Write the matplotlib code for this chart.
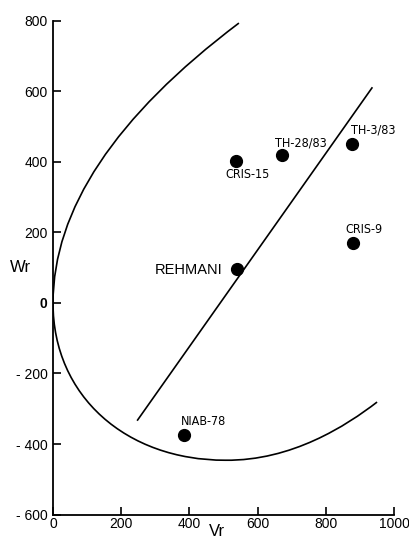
import matplotlib
matplotlib.use("Agg")
import matplotlib.pyplot as plt
from matplotlib.path import Path
from matplotlib.patches import PathPatch

# genotype points (Vr, Wr)
names = ["CRIS-15", "TH-28/83", "TH-3/83", "CRIS-9", "REHMANI", "NIAB-78"]
vr = [537, 671, 876, 879, 539, 385]
wr = [403, 420, 451, 170, 96, -374]

# limiting curve, as bezier nodes/controls
# upper branch (quadratic): end, control, origin
upper_vr = [545, 0, 0]
upper_wr = [794, 397, 0]
# lower branch (two cubics): origin -> bottom -> right end
lower_vr = [0, 0, 215, 505, 700, 860, 950]
lower_wr = [0, -265, -446, -446, -448, -348, -281]

# regression line ends
reg_vr = [248, 935]
reg_wr = [-332, 610]

yticks = [-600, -400, -200, 0, 200, 400, 600, 800]
ylabels = ["- 600", "- 400", "- 200", "0", "200", "400", "600", "800"]
xticks = [0, 200, 400, 600, 800, 1000]

# label offsets in points (dx, dy, ha)
offs = {
    "CRIS-15": (8, -9.5, "center"),
    "TH-28/83": (13.5, 8.6, "center"),
    "TH-3/83": (15.5, 10, "center"),
    "CRIS-9": (8, 9.4, "center"),
    "REHMANI": (-10.5, -0.7, "right"),
    "NIAB-78": (14, 9.6, "center"),
}

fig = plt.figure(figsize=(4.09, 5.40), dpi=100)
ax = fig.add_axes([0.1296, 0.0472, 0.834, 0.914])

up = Path(list(zip(upper_vr, upper_wr)), [Path.MOVETO, Path.CURVE3, Path.CURVE3])
lo = Path(list(zip(lower_vr, lower_wr)),
          [Path.MOVETO] + [Path.CURVE4] * 6)
for p in (up, lo):
    ax.add_patch(PathPatch(p, facecolor="none", edgecolor="black", lw=1.2))

ax.plot(reg_vr, reg_wr, color="black", lw=1.2)
ax.plot(vr, wr, "o", color="black", markersize=8.5)

sans = ["Liberation Sans", "DejaVu Sans"]
narrow = ["Liberation Sans Narrow", "DejaVu Sans"]
for n, x, y in zip(names, vr, wr):
    dx, dy, ha = offs[n]
    if n == "REHMANI":
        ax.annotate(n, (x, y), xytext=(dx, dy), textcoords="offset points",
                    ha=ha, va="center", fontsize=10.5, family=sans)
    else:
        ax.annotate(n, (x, y), xytext=(dx, dy), textcoords="offset points",
                    ha=ha, va="center", fontsize=9, family=narrow,
                    fontstretch="condensed")

ax.set_xlim(0, 1000)
ax.set_ylim(-600, 800)
ax.set_xticks(xticks)
ax.set_xticklabels([str(t) for t in xticks])
ax.set_yticks(yticks)
ax.set_yticklabels(ylabels)
for lab in ax.get_yticklabels():
    lab.set_family(sans)
    lab.set_fontsize(10)
    if lab.get_text() == "0":
        lab.set_fontweight("bold")
for lab in ax.get_xticklabels():
    lab.set_family(sans)
    lab.set_fontsize(10)

ax.tick_params(direction="in", length=6, width=1.2)
ax.tick_params(axis="y", pad=4)
ax.tick_params(axis="x", pad=1.5)
ax.spines["top"].set_visible(False)
ax.spines["right"].set_visible(False)
ax.spines["left"].set_linewidth(1.3)
ax.spines["bottom"].set_linewidth(1.3)

fig.text(20 / 409, 1 - 268 / 540, "Wr", ha="center", va="center", fontsize=12,
         family=sans)
fig.text(217 / 409, 1 - 531 / 540, "Vr", ha="center", va="center", fontsize=12,
         family=sans)

fig.savefig("out.png", dpi=100)
